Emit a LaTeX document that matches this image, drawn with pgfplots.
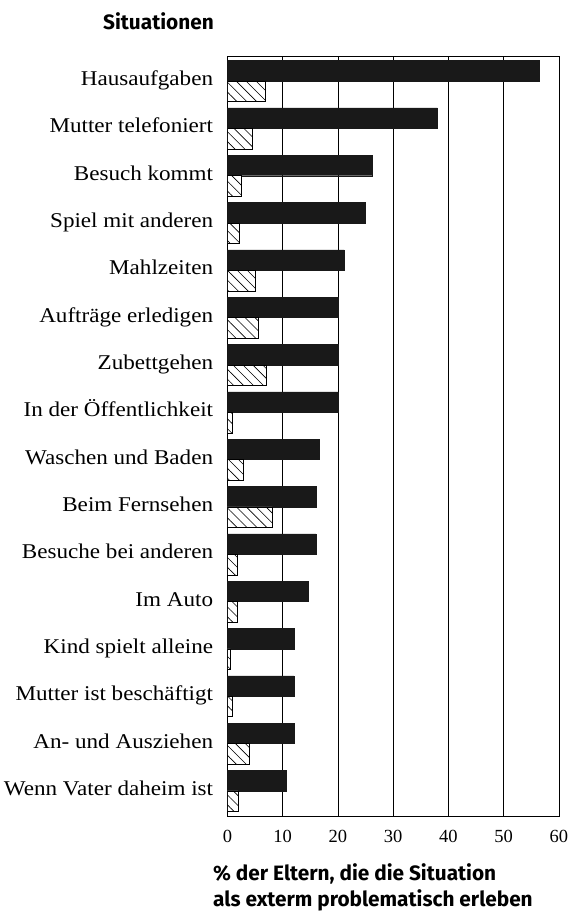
\documentclass[border=0pt]{standalone}
\usepackage{fontspec}
\setmainfont{Liberation Serif}[FakeStretch=1.1]
\newfontfamily\headfont{Fira Sans Bold}
\newfontfamily\numfont{Liberation Serif}
\newcommand\tkf{\numfont\fontsize{18.5}{20}\selectfont}
\usepackage{pgfplots}
\pgfplotsset{compat=1.18}
\usetikzlibrary{patterns.meta}
\pgfplotstableread{
y a b
15 56.4 6.9
14 38.0 4.5
13 26.2 2.5
12 25.0 2.1
11 21.1 5.0
10 20.0 5.6
9 20.0 7.0
8 20.0 0.8
7 16.6 2.9
6 16.0 8.1
5 16.0 1.8
4 14.6 1.8
3 12.0 0.5
2 12.0 0.9
1 12.0 3.9
0 10.7 1.9
}\data
\begin{document}
\begin{tikzpicture}
\path[use as bounding box] (0pt,0pt) rectangle (574pt,914pt);
\begin{axis}[
  at={(227.5pt,98pt)}, anchor=south west,
  width=331.5pt, height=760pt, scale only axis,
  xmin=0, xmax=60, ymin=-0.53, ymax=15.53,
  xbar, bar width=20.5pt,
  xtick={0,10,...,60},
  xticklabels={{\tkf 0},{\tkf 10},{\tkf 20},{\tkf 30},{\tkf 40},{\tkf 50},{\tkf 60}},
  ytick={0,...,15},
  yticklabels={Wenn Vater daheim ist, An- und Ausziehen, Mutter ist beschäftigt, Kind spielt alleine, Im Auto, Besuche bei anderen, Beim Fernsehen, Waschen und Baden, In der Öffentlichkeit, Zubettgehen, Aufträge erledigen, Mahlzeiten, Spiel mit anderen, Besuch kommt, Mutter telefoniert, Hausaufgaben},
  xmajorgrids, grid style={black, line width=0.8pt},
  axis line style={black, line width=0.8pt},
  major tick length=0pt,
  y tick label style={font=\fontsize{21}{23}\selectfont, anchor=base east, inner sep=0pt, xshift=-14.2pt, yshift=-4.6pt},
  x tick label style={anchor=base, inner sep=0pt, yshift=-26.7pt},
]
\addplot[fill=black!90, draw=black!90, bar shift=10.25pt] table[x=a,y=y]{\data};
\addplot[fill=white, draw=black, line width=0.6pt, postaction={pattern={Lines[angle=-45, distance=7pt, line width=0.6pt]}}, bar shift=-10.25pt] table[x=b,y=y]{\data};
\end{axis}
\node[anchor=base west, inner sep=0pt, font=\headfont\fontsize{20.8}{22}\selectfont] at (103pt,884.7pt) {Situationen};
\node[anchor=base west, inner sep=0pt, font=\headfont\fontsize{20.8}{22}\selectfont] at (213pt,33pt) {\% der Eltern, die die Situation};
\node[anchor=base west, inner sep=0pt, font=\headfont\fontsize{20.8}{22}\selectfont] at (213pt,7pt) {als exterm problematisch erleben};
\end{tikzpicture}
\end{document}
